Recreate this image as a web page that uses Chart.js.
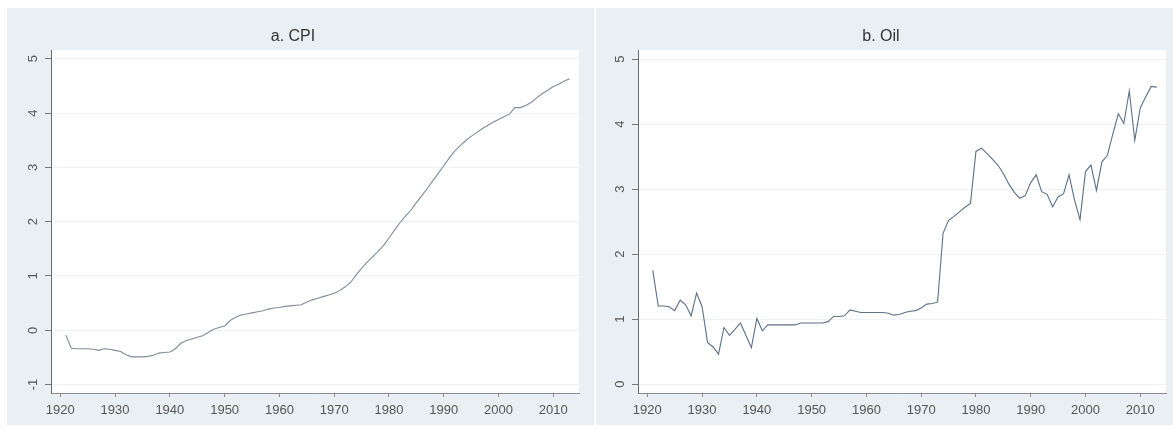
<!DOCTYPE html>
<html>
<head>
<meta charset="utf-8">
<script src="https://cdn.jsdelivr.net/npm/chart.js@4.4.0/dist/chart.umd.min.js"></script>
<style>
  html, body { margin: 0; padding: 0; background: #fff; overflow: hidden; }
  body { width: 1173px; height: 430px; position: relative; }
  .panel { position: absolute; top: 8px; background: #e9eff2; }
</style>
</head>
<body>
<canvas id="cpi" class="panel" width="587" height="417" style="left:7px"></canvas>
<canvas id="oil" class="panel" width="587" height="417" style="left:596px"></canvas>
<script>
'use strict';

// years on the x axis
const years = [
  1921, 1922, 1923, 1924, 1925, 1926, 1927, 1928, 1929, 1930,
  1931, 1932, 1933, 1934, 1935, 1936, 1937, 1938, 1939, 1940,
  1941, 1942, 1943, 1944, 1945, 1946, 1947, 1948, 1949, 1950,
  1951, 1952, 1953, 1954, 1955, 1956, 1957, 1958, 1959, 1960,
  1961, 1962, 1963, 1964, 1965, 1966, 1967, 1968, 1969, 1970,
  1971, 1972, 1973, 1974, 1975, 1976, 1977, 1978, 1979, 1980,
  1981, 1982, 1983, 1984, 1985, 1986, 1987, 1988, 1989, 1990,
  1991, 1992, 1993, 1994, 1995, 1996, 1997, 1998, 1999, 2000,
  2001, 2002, 2003, 2004, 2005, 2006, 2007, 2008, 2009, 2010,
  2011, 2012, 2013
];

// a. CPI (log)
const cpi = [
  -0.09, -0.33, -0.34, -0.34, -0.34, -0.35, -0.37, -0.34, -0.35, -0.37,
  -0.39, -0.45, -0.49, -0.49, -0.49, -0.48, -0.46, -0.42, -0.41, -0.40,
  -0.34, -0.24, -0.19, -0.16, -0.13, -0.10, -0.04, 0.02, 0.05, 0.08,
  0.18, 0.24, 0.28, 0.30, 0.32, 0.34, 0.36, 0.39, 0.41, 0.42,
  0.44, 0.45, 0.46, 0.47, 0.52, 0.56, 0.59, 0.62, 0.65, 0.68,
  0.73, 0.80, 0.88, 1.02, 1.14, 1.25, 1.35, 1.45, 1.56, 1.70,
  1.84, 1.98, 2.10, 2.21, 2.35, 2.48, 2.61, 2.75, 2.89, 3.03,
  3.17, 3.30, 3.40, 3.49, 3.57, 3.64, 3.71, 3.77, 3.83, 3.88,
  3.93, 3.98, 4.10, 4.10, 4.14, 4.20, 4.28, 4.36, 4.42, 4.49,
  4.53, 4.59, 4.63
];

// b. Oil (log)
const oil = [
  1.75, 1.20, 1.20, 1.19, 1.13, 1.29, 1.22, 1.05, 1.40, 1.19,
  0.64, 0.57, 0.46, 0.87, 0.75, 0.84, 0.94, 0.75, 0.56, 1.01,
  0.82, 0.91, 0.91, 0.91, 0.91, 0.91, 0.91, 0.94, 0.94, 0.94,
  0.94, 0.94, 0.96, 1.04, 1.04, 1.05, 1.14, 1.12, 1.10, 1.10,
  1.10, 1.10, 1.10, 1.09, 1.06, 1.07, 1.10, 1.12, 1.13, 1.17,
  1.23, 1.24, 1.26, 2.32, 2.52, 2.58, 2.65, 2.72, 2.78, 3.58,
  3.63, 3.55, 3.46, 3.37, 3.24, 3.08, 2.95, 2.86, 2.90, 3.10,
  3.22, 2.96, 2.92, 2.73, 2.88, 2.93, 3.22, 2.83, 2.53, 3.27,
  3.37, 2.98, 3.42, 3.52, 3.85, 4.16, 4.01, 4.51, 3.75, 4.25,
  4.42, 4.58, 4.57
];

const yearTicks = [1920, 1930, 1940, 1950, 1960, 1970, 1980, 1990, 2000, 2010];
const cpiTicks = [-1, 0, 1, 2, 3, 4, 5];
const oilTicks = [0, 1, 2, 3, 4, 5];

const fontFamily = '"Liberation Sans", Arial, sans-serif';

// white plot region on the bluish-gray panel
const plotBg = {
  id: 'plotBg',
  beforeDraw(chart) {
    const { ctx, chartArea: a } = chart;
    ctx.save();
    ctx.fillStyle = '#ffffff';
    ctx.fillRect(a.left, a.top, a.right - a.left, a.bottom - a.top);
    ctx.restore();
  }
};

function makePanel(id, title, values, yTicks, yMin, yMax, axisWidth, rightPad, labelPad, lineColor) {
  let points = [];
  for (let i = 0; i < years.length; i++) {
    points.push({ x: years[i], y: values[i] });
  }

  let config = {
    type: 'line',
    data: {
      datasets: [{
        data: points,
        borderColor: lineColor,
        borderWidth: 1.1,
        pointRadius: 0,
        tension: 0,
        fill: false
      }]
    },
    options: {
      responsive: false,
      animation: false,
      events: [],
      layout: { padding: { left: 0, right: rightPad, top: 0, bottom: 0 } },
      plugins: {
        legend: { display: false },
        tooltip: { enabled: false },
        title: {
          display: true,
          text: title,
          color: '#333333',
          font: { family: fontFamily, size: 16, weight: 'normal' },
          padding: { top: 19, bottom: 4 }
        }
      },
      scales: {
        x: {
          type: 'linear',
          min: 1918.3,
          max: 2014.7,
          afterBuildTicks: (scale) => { scale.ticks = yearTicks.map(v => ({ value: v })); },
          afterFit: (scale) => { scale.height = 32; },
          border: { display: true, color: '#8c8c8c', width: 1 },
          grid: { drawOnChartArea: false, drawTicks: true, tickLength: 4, tickColor: '#8c8c8c' },
          ticks: {
            color: '#555555',
            font: { family: fontFamily, size: 13 },
            padding: 6,
            maxRotation: 0,
            autoSkip: false,
            callback: (v) => String(v)
          }
        },
        y: {
          type: 'linear',
          min: yMin,
          max: yMax,
          afterBuildTicks: (scale) => { scale.ticks = yTicks.map(v => ({ value: v })); },
          afterFit: (scale) => { scale.width = axisWidth; },
          border: { display: true, color: '#6a6a6a', width: 1 },
          grid: { color: '#edf2f5', lineWidth: 1, drawTicks: true, tickLength: 6, tickColor: '#777777' },
          ticks: {
            color: '#555555',
            font: { family: fontFamily, size: 13 },
            minRotation: 90,
            maxRotation: 90,
            crossAlign: 'center',
            padding: labelPad,
            autoSkip: false,
            callback: (v) => String(v)
          }
        }
      }
    },
    plugins: [plotBg]
  };

  new Chart(document.getElementById(id), config);
}

makePanel('cpi', 'a. CPI', cpi, cpiTicks, -1.155, 5.157, 44, 15, 6, '#7f8c99');
makePanel('oil', 'b. Oil', oil, oilTicks, -0.138, 5.138, 42, 17, 8, '#5d7085');
</script>
</body>
</html>
